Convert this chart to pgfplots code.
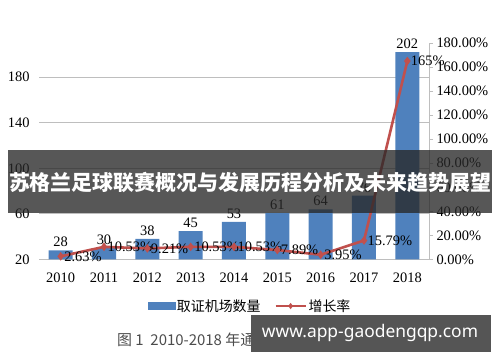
\documentclass[border=0pt]{standalone}
\usepackage{pgfplots}
\pgfplotsset{compat=1.18}
\usepackage{pgfplotstable}
\usepackage{fontspec}
\setmainfont{Liberation Serif}
\newfontfamily\cjk{Noto Sans CJK SC}
\newfontfamily\wmfont{Noto Sans}
\definecolor{barblue}{RGB}{79,129,189}
\definecolor{linered}{RGB}{192,80,77}
\definecolor{gridgray}{RGB}{190,190,190}
\definecolor{bannergray}{RGB}{40,40,40}
\definecolor{wmgray}{RGB}{85,85,85}
\pgfplotstableread{
x v
0 28
1 30
2 38
3 45
4 53
5 61
6 64
7 76
8 202
}\bars
\begin{document}
\begin{tikzpicture}
\useasboundingbox (0,0) rectangle (500bp,362bp);
\begin{axis}[
  at={(39bp,102.5bp)}, anchor=south west, scale only axis,
  width=390bp, height=216.5bp,
  xmin=-0.5, xmax=8.5, ymin=20, ymax=210,
  xtick={0,...,8}, xticklabels={2010,2011,2012,2013,2014,2015,2016,2017,2018},
  ytick={20,60,100,140,180},
  ymajorgrids, grid style={gridgray, line width=0.9bp},
  axis x line*=bottom, axis y line*=left,
  y axis line style={draw=none}, x axis line style={gridgray, line width=0.9bp, -},
  major tick length=0pt,
  tick label style={font=\fontsize{14.5}{16}\selectfont},
  /pgf/number format/assume math mode=true,
  xticklabel style={yshift=-10bp},
  yticklabel style={xshift=-6bp},
]
\addplot[ybar, bar width=24bp, fill=barblue, draw=none,
  nodes near coords, nodes near coords style={text=black, font=\fontsize{14.5}{16}\selectfont, anchor=south}]
  table[x=x, y=v]{\bars};
\end{axis}
\begin{axis}[
  at={(39bp,102.5bp)}, anchor=south west, scale only axis,
  width=390bp, height=216.5bp,
  xmin=-0.5, xmax=8.5, ymin=0, ymax=180,
  axis x line=none, axis y line*=right,
  ytick={0,20,...,180},
  yticklabel={\pgfmathprintnumber[fixed,fixed zerofill,precision=2]{\tick}\%},
  y axis line style={gridgray, line width=0.9bp, -},
  ytick style={gridgray, line width=0.9bp},
  tick align=outside, major tick length=4bp,
  tick label style={font=\fontsize{14.5}{16}\selectfont},
  /pgf/number format/assume math mode=true,
  legend style={at={(0.541,-0.215)}, anchor=center, draw=none, fill=none,
    legend columns=2, font=\cjk\fontsize{14}{16}\selectfont,
    /tikz/every even column/.append style={column sep=12bp}},
]
\addlegendimage{legend image code/.code={\fill[barblue] (0bp,-3.5bp) rectangle (27bp,3.5bp);}}
\addlegendentry{取证机场数量}
\addplot[linered, line width=2.6bp, mark=diamond*, mark size=2.2bp,
  mark options={solid, fill=linered},
  point meta=explicit symbolic,
  nodes near coords, nodes near coords style={text=black, font=\fontsize{14.5}{16}\selectfont, anchor=west, xshift=-1bp},
  legend image code/.code={\draw[linered, line width=2bp, mark=diamond*, mark options={fill=linered}, mark repeat=2, mark phase=2, mark size=1.5bp] plot coordinates {(0bp,0bp) (15bp,0bp) (30bp,0bp)};}]
coordinates {
(0,2.63) [2.63\%]
(1,10.53) [10.53\%]
(2,9.21) [9.21\%]
(3,10.53) [10.53\%]
(4,10.53) [10.53\%]
(5,7.89) [7.89\%]
(6,3.95) [3.95\%]
(7,15.79) [15.79\%]
(8,165) [165\%]
};
\addlegendentry{增长率}
\end{axis}
% caption
\node[anchor=west, text=black!70, inner sep=0pt] at (117bp,22bp) {\cjk\fontsize{15}{17}\selectfont 图 1\ \ 2010-2018 年通用机场取证数量};
% banner overlay
\fill[bannergray, fill opacity=0.78] (8bp,149bp) rectangle (492bp,212bp);
\node[text=white, inner sep=0pt] at (250bp,180bp) {\resizebox{482bp}{!}{\cjk\bfseries 苏格兰足球联赛概况与发展历程分析及未来趋势展望}};
% watermark
\fill[wmgray] (251bp,10bp) rectangle (491bp,47bp);
\node[text=white, inner sep=0pt] at (370bp,29bp) {\resizebox{216bp}{!}{\wmfont\bfseries www.app-gaodengqp.com}};
\end{tikzpicture}
\end{document}
